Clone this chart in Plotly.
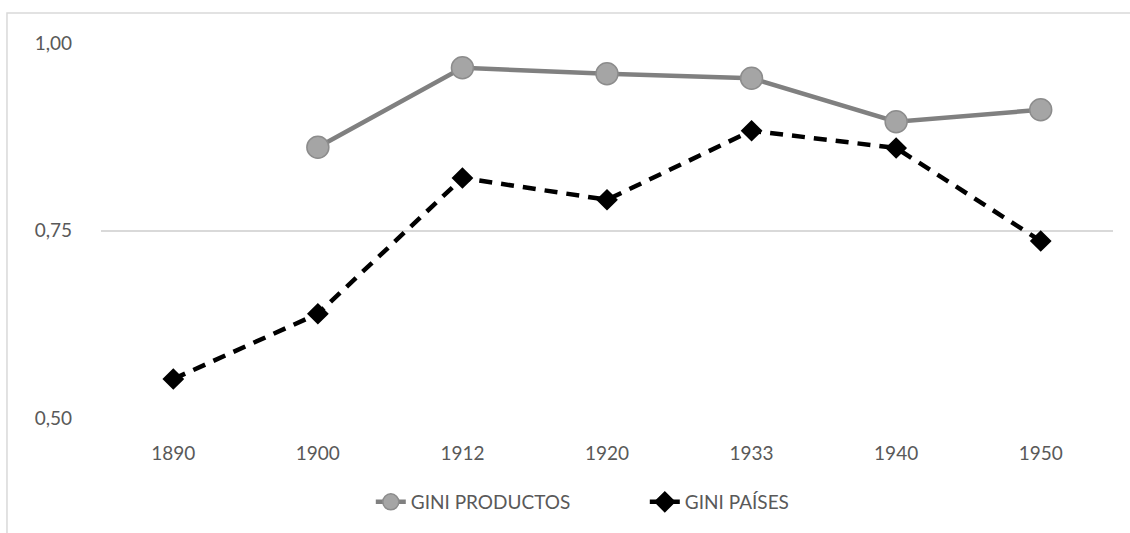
import plotly.graph_objects as go

years = ["1890", "1900", "1912", "1920", "1933", "1940", "1950"]
gini_productos = [None, 0.861, 0.967, 0.959, 0.953, 0.895, 0.911]
gini_paises = [0.552, 0.639, 0.820, 0.791, 0.883, 0.860, 0.736]
y_ticks = [0.50, 0.75, 1.00]

fig = go.Figure()
fig.add_trace(go.Scatter(
    x=years, y=gini_productos, name="GINI PRODUCTOS", mode="lines+markers",
    line=dict(color="#808080", width=4.5),
    marker=dict(symbol="circle", size=22, color="#A5A5A5", line=dict(color="#8C8C8C", width=1.5)),
    connectgaps=False,
))
fig.add_trace(go.Scatter(
    x=years, y=gini_paises, name="GINI PAÍSES", mode="lines+markers",
    line=dict(color="#000000", width=4.5, dash="13px,9px"),
    marker=dict(symbol="diamond", size=14, color="#000000", line=dict(color="#000000", width=2.5)),
))

fig.add_shape(type="rect", xref="paper", yref="paper",
              x0=-0.0929, x1=1.03, y0=-0.35, y1=1.08,
              line=dict(color="#D9D9D9", width=1.5), fillcolor="rgba(0,0,0,0)", layer="below")

fig.update_layout(
    width=1130, height=533,
    margin=dict(l=101, r=17, t=43, b=115),
    plot_bgcolor="white", paper_bgcolor="white",
    separators=",.",
    font=dict(family="Lato, 'Open Sans', sans-serif", size=19, color="#595959"),
    showlegend=True,
    legend=dict(orientation="h", x=0.2666, xanchor="left", y=-0.224, yanchor="middle",
                font=dict(size=19, color="#595959"), entrywidth=229, entrywidthmode="pixels",
                traceorder="normal"),
    xaxis=dict(type="category", range=[-0.5, 6.5], showgrid=False, showline=False,
               zeroline=False, ticks="", ticklabelstandoff=22),
    yaxis=dict(range=[0.5, 1.0], tickvals=y_ticks, tickformat=".2f", showgrid=True,
               gridcolor="#D9D9D9", gridwidth=1.5, zeroline=False, showline=False,
               ticks="", ticklabelstandoff=28),
)

fig.write_html("out.html", config={"displayModeBar": False},
               post_script="document.body.style.margin='0';")
